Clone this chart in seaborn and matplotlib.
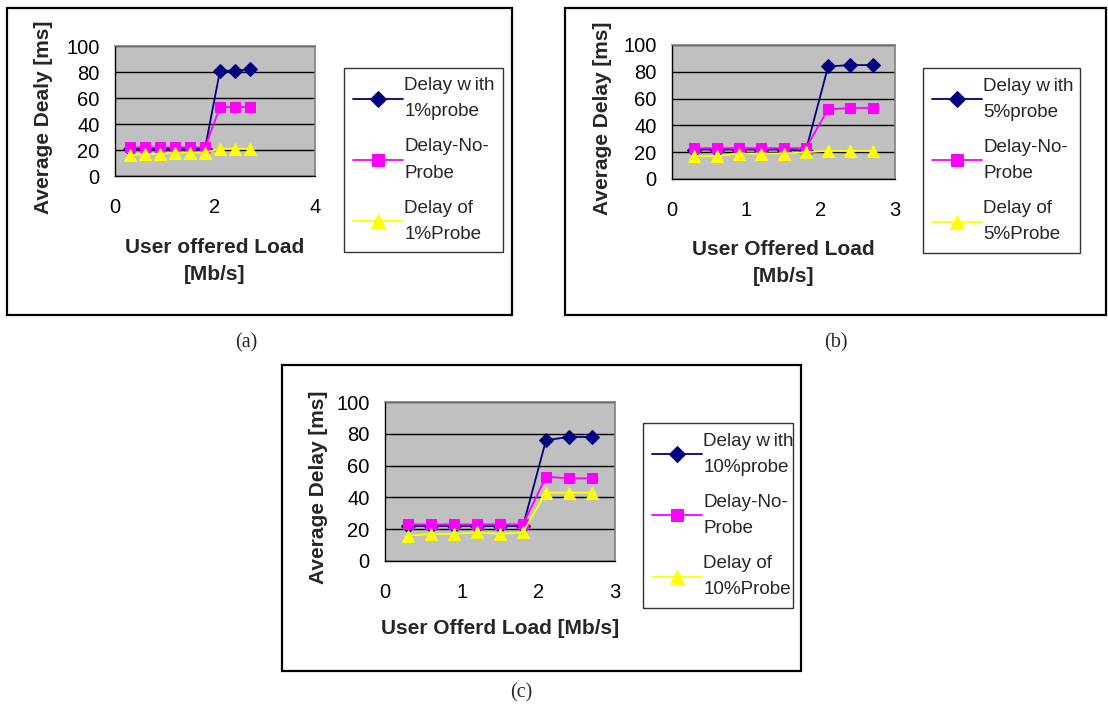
import matplotlib
matplotlib.use("Agg")
import matplotlib.pyplot as plt
import seaborn as sns
from matplotlib.patches import Rectangle

# ---------------- data ----------------
load = [0.3, 0.6, 0.9, 1.2, 1.5, 1.8, 2.1, 2.4, 2.7]

a_with = [21, 21, 21, 21, 21, 21, 81, 81, 82]
a_no = [22, 22, 22, 22, 22, 22, 53, 53, 53]
a_probe = [16, 17, 17, 18, 18, 18, 21, 21, 21]

b_with = [22, 22, 22, 22, 22, 21, 84, 85, 85]
b_no = [23, 23, 23, 23, 23, 23, 52, 53, 53]
b_probe = [17, 17, 19, 19, 19, 20, 21, 21, 21]

c_with = [22, 22, 22, 22, 22, 22, 76, 78, 78]
c_no = [23, 23, 23, 23, 23, 23, 53, 52, 52]
c_probe = [16, 17, 17, 18, 17, 18, 43, 43, 43]

a_labels = ["Delay w\u2009ith\n1%probe", "Delay-No-\nProbe", "Delay of\n1%Probe"]
b_labels = ["Delay w\u2009ith\n5%probe", "Delay-No-\nProbe", "Delay of\n5%Probe"]
c_labels = ["Delay w\u2009ith\n10%probe", "Delay-No-\nProbe", "Delay of\n10%Probe"]

a_xticks = [0, 2, 4]
bc_xticks = [0, 1, 2, 3]
y_ticks = [0, 20, 40, 60, 80, 100]

# ---------------- style ----------------
sns.set_style("white")
plt.rcParams["font.family"] = ["Liberation Sans", "DejaVu Sans"]

W, H = 1108, 708
fig = plt.figure(figsize=(W / 100, H / 100), dpi=100)

COLORS = ["#000080", "#FF00FF", "#FFFF00"]
MARKERS = ["D", "s", "^"]
MSIZES = [7, 7.5, 8.5]


def fx(px):
    return px / W


def fy(py):
    return 1 - py / H


def frame(x0, y0, x1, y1):
    fig.patches.append(Rectangle((fx(x0), fy(y1)), fx(x1) - fx(x0), fy(y0) - fy(y1),
                                 transform=fig.transFigure, fill=False,
                                 edgecolor="black", linewidth=1.6, zorder=0))


def panel(box, xlim, xticks, series, labels, xlabel, ylabel, xlabel_y, ylabel_x, leg_box):
    l, t, r, b = box
    ax = fig.add_axes([fx(l), fy(b), fx(r) - fx(l), fy(t) - fy(b)])
    ax.set_facecolor("#C0C0C0")
    for ys, c, m, ms, lab in zip(series, COLORS, MARKERS, MSIZES, labels):
        sns.lineplot(x=load, y=ys, ax=ax, color=c, marker=m, markersize=ms,
                     markeredgecolor=c, linewidth=1.3, label=lab, legend=False)
    ax.set_xlim(*xlim)
    ax.set_ylim(0, 100)
    ax.set_xticks(xticks)
    ax.set_yticks(y_ticks)
    ax.yaxis.grid(True, color="black", linewidth=1.0)
    ax.set_axisbelow(True)
    for s in ["top", "right"]:
        ax.spines[s].set_color("#808080")
        ax.spines[s].set_linewidth(1.2)
    for s in ["left", "bottom"]:
        ax.spines[s].set_color("black")
        ax.spines[s].set_linewidth(1.0)
    ax.tick_params(axis="both", direction="out", length=5, width=1, colors="black",
                   labelsize=14.5)
    ax.tick_params(axis="x", pad=11)
    ax.tick_params(axis="y", pad=6)
    # axis titles placed in figure pixels
    fig.text(fx((l + r) / 2), fy(xlabel_y), xlabel, ha="center", va="center",
             fontsize=15, fontweight="bold", linespacing=1.5)
    fig.text(fx(ylabel_x), fy((t + b) / 2 + 6), ylabel, ha="center", va="center",
             rotation=90, fontsize=15, fontweight="bold")
    handles, labs = ax.get_legend_handles_labels()
    lx0, ly0, lx1, ly1 = leg_box
    leg = ax.legend(handles, labs, loc="center",
                    bbox_to_anchor=(fx(lx0), fy(ly1), fx(lx1) - fx(lx0), fy(ly0) - fy(ly1)),
                    bbox_transform=fig.transFigure, mode="expand",
                    fontsize=13.6, frameon=True, fancybox=False, edgecolor="black",
                    handlelength=2.6, handletextpad=0.1, labelspacing=0.95,
                    borderpad=0.5, borderaxespad=0, markerscale=1.15)
    leg.get_frame().set_linewidth(1.0)
    for txt in leg.get_texts():
        txt.set_linespacing(1.72)
    return ax


# panel (a)
frame(7, 8, 512, 315)
panel((115, 46, 315, 176), (0, 4), a_xticks, [a_with, a_no, a_probe], a_labels,
      "User offered Load\n[Mb/s]", "Average Dealy [ms]", 261, 44, (344, 67, 503, 253))

# panel (b)
frame(565, 8, 1106, 315)
panel((672, 45, 895, 179), (0, 3), bc_xticks, [b_with, b_no, b_probe], b_labels,
      "User Offered Load\n[Mb/s]", "Average Delay [ms]", 263, 603, (923, 69, 1080, 252))

# panel (c)
frame(282, 365, 801, 671)
panel((385, 402, 615, 561), (0, 3), bc_xticks, [c_with, c_no, c_probe], c_labels,
      "User Offerd Load [Mb/s]", "Average Delay [ms]", 629, 318, (643, 424, 793, 607))

# sub-figure captions
for s, x, y in [("(a)", 246, 343), ("(b)", 836, 343), ("(c)", 521, 693)]:
    fig.text(fx(x), fy(y), s, ha="center", va="center", fontsize=14.5,
             family=["Liberation Serif", "DejaVu Serif"])

fig.savefig("out.png", dpi=100)
